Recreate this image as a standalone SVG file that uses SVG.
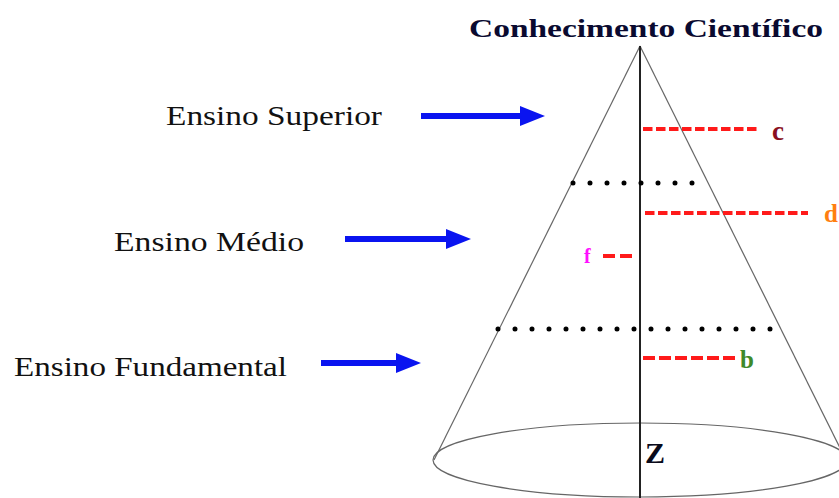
<svg xmlns="http://www.w3.org/2000/svg" width="839" height="498" viewBox="0 0 839 498">
<style>
.lbl{font-family:"Liberation Serif","Times New Roman",serif;font-size:27px;fill:#111}
.ttl{font-family:"Liberation Serif","Times New Roman",serif;font-size:25px;font-weight:bold;fill:#0a0a30}
.let{font-family:"Liberation Serif","Times New Roman",serif;font-weight:bold}
.cone{stroke:#666;stroke-width:1.2;fill:none}
.dots{stroke:#000;stroke-width:5;stroke-linecap:round;stroke-dasharray:0 17}
.red{stroke:#ff1a1a;stroke-width:4;fill:none}
.arr{stroke:#0a14f0;stroke-width:6}
</style>
<defs>
<marker id="ah" markerUnits="userSpaceOnUse" markerWidth="26" markerHeight="22" refX="1" refY="11" orient="auto">
<path d="M0,1 L25,11 L0,21 Z" fill="#0a14f0"/>
</marker>
</defs>
<rect width="839" height="498" fill="#fff"/>
<g id="cone">
<line class="cone" x1="640" y1="46" x2="434" y2="460"/>
<line class="cone" x1="640" y1="46" x2="846" y2="460"/>
<ellipse class="cone" cx="640" cy="460" rx="207" ry="37"/>
<line x1="640" y1="46" x2="640" y2="498" stroke="#222" stroke-width="2"/>
<line class="dots" x1="573" y1="183" x2="693" y2="183"/>
<line class="dots" x1="498" y1="329" x2="771" y2="329"/>
</g>
<g id="title"><text class="ttl" x="469" y="37" textLength="354" lengthAdjust="spacingAndGlyphs">Conhecimento Científico</text></g>
<g id="superior"><text class="lbl" x="166" y="125" textLength="216" lengthAdjust="spacingAndGlyphs">Ensino Superior</text></g>
<g id="medio"><text class="lbl" x="114" y="251" textLength="190" lengthAdjust="spacingAndGlyphs">Ensino Médio</text></g>
<g id="fundamental"><text class="lbl" x="14" y="376" textLength="273" lengthAdjust="spacingAndGlyphs">Ensino Fundamental</text></g>
<g id="connectors">
<line class="arr" x1="421" y1="116" x2="521" y2="116" marker-end="url(#ah)"/>
<line class="arr" x1="345" y1="239" x2="447" y2="239" marker-end="url(#ah)"/>
<line class="arr" x1="321" y1="363" x2="397" y2="363" marker-end="url(#ah)"/>
</g>
<g id="c">
<line class="red" x1="643" y1="129" x2="758" y2="129" stroke-dasharray="9.5 3.5"/>
<text class="let" x="772" y="140" font-size="27" fill="#8a1020">c</text>
</g>
<g id="d">
<line class="red" x1="645" y1="213" x2="808" y2="213" stroke-dasharray="9.5 3.5"/>
<text class="let" x="824" y="222" font-size="25" fill="#ff7f10">d</text>
</g>
<g id="f">
<line class="red" x1="603" y1="256" x2="634" y2="256" stroke-dasharray="12 5"/>
<text class="let" x="584" y="263" font-size="20" fill="#ff10ff">f</text>
</g>
<g id="b">
<line class="red" x1="643" y1="358" x2="738" y2="358" stroke-width="5" stroke-dasharray="12 4"/>
<text class="let" x="740" y="368" font-size="25" fill="#3f8a2a">b</text>
</g>
<g id="z"><text class="let" x="645" y="463" font-size="30" fill="#0a0a1a">Z</text></g>
</svg>
